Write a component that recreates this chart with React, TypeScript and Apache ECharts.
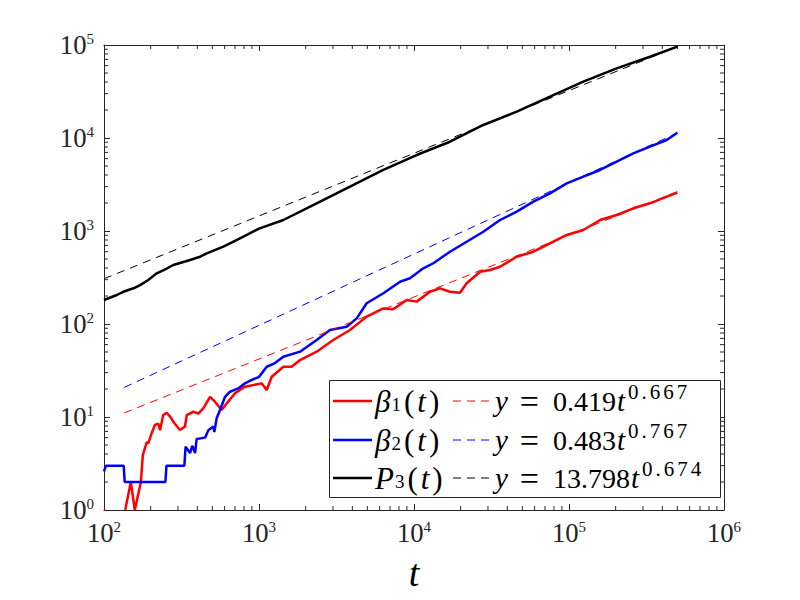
import React, { useEffect, useRef } from "react";
import * as echarts from "echarts";

// ---------- data ----------
const redT = [100, 102, 103, 136, 137, 149, 158, 173, 178, 189, 193, 203, 213, 224, 230, 241, 254, 267, 280, 309, 333, 342, 377, 406, 437, 483, 520, 574, 619, 700, 812, 1040, 1122, 1208, 1436, 1625, 1840, 2355, 3013, 3864, 4950, 6339, 7345, 8970, 10400, 12680, 14720, 17060, 19800, 21860, 26700, 30900, 35900, 46000, 58900, 75400, 96600, 123700, 158500, 203000, 260000, 333000, 427000, 500000];
const redV: (number | null)[] = [1, 1, null, null, 1, 2, 1, 2, 3.9, 5.4, 5.2, 6.7, 8.2, 8.5, 7.2, 10.5, 11.1, 10.1, 8.9, 7.25, 7.9, 10.5, 11.4, 10.9, 12.4, 16.5, 14.6, 11.9, 14, 18, 21.2, 23, 19.5, 27.1, 34.7, 34.7, 41, 50.4, 67.3, 86.2, 120, 147, 144, 181, 174, 222, 242, 222, 217, 274, 365, 381, 413, 529, 599, 738, 906, 1025, 1313, 1486, 1754, 1986, 2339, 2582];

const blueT = [100, 103, 134, 136, 249, 253, 330, 336, 359, 371, 387, 396, 449, 471, 507, 515, 533, 560, 604, 650, 735, 812, 897, 1000, 1122, 1268, 1436, 1840, 2355, 2870, 3680, 4270, 4950, 6340, 8130, 9420, 11480, 13330, 17060, 21860, 28000, 35900, 46000, 58900, 75400, 96600, 123700, 158500, 203000, 260000, 333000, 427000, 500000];
const blueV = [2.6, 3, 3, 2, 2, 3, 3, 4.8, 4.1, 4.9, 4.1, 5.8, 6, 7.2, 7.9, 6.9, 9.7, 11.9, 16.5, 18.7, 20.3, 23, 25, 27, 34.7, 38, 44.5, 50.4, 67.3, 86, 93.5, 115, 167, 214, 285, 310, 397, 450, 599, 767, 982, 1313, 1614, 2066, 2542, 3257, 3837, 4530, 5560, 6840, 8060, 9510, 11400];

const blackT = [100, 121, 133, 155, 171, 193, 219, 254, 280, 359, 417, 460, 589, 754, 1000, 1436, 2355, 3864, 6339, 10400, 17060, 28000, 46000, 75400, 123700, 203000, 333000, 500000];
const blackV = [181, 205, 222, 242, 262, 297, 351, 395, 431, 488, 529, 575, 678, 835, 1060, 1313, 1986, 2993, 4530, 6560, 9120, 13800, 19200, 27800, 40300, 56100, 74800, 95900];

// fitted power-law lines (end points)
const fit1T = [135, 500000];
const fit1V = [11.05, 2652];
const fit2T = [135, 500000];
const fit2V = [20.8, 11360];
const fit3T = [100, 500000];
const fit3V = [306.8, 95770];

const legendNames = ["\u03b2", "\u03b2", "P"];
const legendSubs = ["1", "2", "3"];
const fitCoefs = ["0.419", "0.483", "13.798"];
const fitExps = ["0.667", "0.767", "0.674"];
const colors = ["#ff0000", "#0000ff", "#000000"];

const xDecades = [2, 3, 4, 5];
const yDecades = [0, 1, 2, 3, 4];
const minorMults = [2, 3, 4, 5, 6, 7, 8, 9];

const FONT = "'Liberation Serif', 'Times New Roman', serif";
const AXC = "#262626";

const pairs = (t: number[], v: (number | null)[]) =>
  t.map((x, i) => [x, v[i] === null ? "-" : v[i]]);

export default function App() {
  const ref = useRef<HTMLDivElement>(null);
  useEffect(() => {
    if (!ref.current) return;
    const chart = echarts.init(ref.current, undefined, { renderer: "svg" });

    const xMinor: number[][] = [];
    xDecades.forEach((d) => minorMults.forEach((m) => xMinor.push([m * Math.pow(10, d), 1])));
    const yMinor: number[][] = [];
    yDecades.forEach((d) => minorMults.forEach((m) => yMinor.push([100, m * Math.pow(10, d)])));

    const tickFmt = (val: number) => {
      const e = Math.round(Math.log10(val));
      return `{b|10}{s|${e}}`;
    };
    const tickRich = {
      b: { fontFamily: FONT, fontSize: 26.7, color: AXC },
      s: { fontFamily: FONT, fontSize: 15, color: AXC, padding: [0, 0, 12, 0] },
    };

    const logAxisCommon = {
      type: "log" as const,
      logBase: 10,
      axisLine: { show: true, lineStyle: { color: AXC, width: 1 } },
      axisTick: { show: true, inside: true, length: 6, lineStyle: { color: AXC, width: 1 } },
      splitLine: { show: false },
      minorTick: { show: false },
    };

    const mkLine = (name: string, data: any[], color: string, dashed: boolean) => ({
      name,
      type: "line",
      data,
      showSymbol: false,
      symbol: "none",
      connectNulls: false,
      clip: true,
      lineStyle: dashed
        ? { color, width: 1, type: [8, 6] }
        : { color, width: 2.5 },
      z: dashed ? 3 : 2,
      silent: true,
    });

    const minorSeries = (data: number[][], horiz: boolean) => ({
      type: "custom",
      silent: true,
      clip: false,
      z: 1,
      data,
      renderItem: (params: any, api: any) => {
        const p = api.coord([api.value(0), api.value(1)]);
        const cs = params.coordSys;
        const st = { stroke: AXC, lineWidth: 1 };
        const L = 4;
        if (!horiz) {
          const yb = cs.y + cs.height;
          return {
            type: "group",
            children: [
              { type: "line", shape: { x1: p[0], y1: yb, x2: p[0], y2: yb - L }, style: st },
              { type: "line", shape: { x1: p[0], y1: cs.y, x2: p[0], y2: cs.y + L }, style: st },
            ],
          };
        }
        const xr = cs.x + cs.width;
        return {
          type: "group",
          children: [
            { type: "line", shape: { x1: cs.x, y1: p[1], x2: cs.x + L, y2: p[1] }, style: st },
            { type: "line", shape: { x1: xr, y1: p[1], x2: xr - L, y2: p[1] }, style: st },
          ],
        };
      },
    });

    // legend drawn with graphic elements
    const rowY = [401, 440, 478];
    const legendEls: any[] = [
      {
        type: "rect",
        shape: { x: 329.5, y: 380.5, width: 391, height: 117 },
        style: { fill: "#ffffff", stroke: AXC, lineWidth: 1 },
        z: 100,
      },
    ];
    const base = (size: number) => ({ fontFamily: FONT, fontSize: size, fill: "#000" });
    const supTokens = (s: string) =>
      s.split("").map((c) => `{s|${c}}`).join("");
    rowY.forEach((y, i) => {
      legendEls.push({
        type: "line",
        shape: { x1: 333, y1: y, x2: 372, y2: y },
        style: { stroke: colors[i], lineWidth: 2.5 },
        z: 101,
      });
      legendEls.push({
        type: "text",
        x: 375,
        y,
        z: 101,
        style: {
          text: `{g|${legendNames[i]}}{sub|${legendSubs[i]}}{lp|(}{t|t}{rp|)}`,
          align: "left",
          verticalAlign: "middle",
          rich: {
            g: { ...base(31), fontStyle: "italic" },
            t: { ...base(31), fontStyle: "italic", padding: [0, 3, 0, 3] },
            lp: { ...base(31), padding: [0, 0, 0, 2] },
            rp: { ...base(31) },
            sub: { ...base(19), padding: [7, 1, 0, 1] },
          },
        },
      });
      legendEls.push({
        type: "line",
        shape: { x1: 453, y1: y, x2: 494, y2: y },
        style: { stroke: colors[i], lineWidth: 1.2, lineDash: [8, 6] },
        z: 101,
      });
      legendEls.push({
        type: "text",
        x: 495,
        y,
        z: 101,
        style: {
          text: `{y|y}{eq|=}{n|${fitCoefs[i]}}{t|t}${supTokens(fitExps[i])}`,
          align: "left",
          verticalAlign: "middle",
          rich: {
            y: { ...base(29), fontStyle: "italic" },
            t: { ...base(29), fontStyle: "italic", padding: [0, 3, 0, 1] },
            n: { ...base(28) },
            eq: { ...base(34), padding: [0, 14, 0, 12] },
            s: { ...base(21), padding: [0, 3, 18, 0] },
          },
        },
      });
    });
    legendEls.push({
      type: "text",
      x: 414,
      y: 573,
      z: 101,
      style: {
        text: "t",
        align: "center",
        verticalAlign: "middle",
        fontFamily: FONT,
        fontSize: 38,
        fontStyle: "italic",
        fill: "#000",
      },
    });

    chart.setOption({
      animation: false,
      backgroundColor: "#ffffff",
      grid: { left: 104, right: 76, top: 45, bottom: 90, containLabel: false },
      xAxis: [
        {
          ...logAxisCommon,
          position: "bottom",
          min: 100,
          max: 1000000,
          axisLabel: { show: true, margin: 9, formatter: tickFmt, rich: tickRich },
        },
        {
          ...logAxisCommon,
          position: "top",
          min: 100,
          max: 1000000,
          axisLabel: { show: false },
        },
      ],
      yAxis: [
        {
          ...logAxisCommon,
          position: "left",
          min: 1,
          max: 100000,
          axisLabel: { show: true, margin: 10, formatter: tickFmt, rich: tickRich },
        },
        {
          ...logAxisCommon,
          position: "right",
          min: 1,
          max: 100000,
          axisLabel: { show: false },
        },
      ],
      series: [
        mkLine("beta1", pairs(redT, redV), colors[0], false),
        mkLine("fit1", pairs(fit1T, fit1V), colors[0], true),
        mkLine("beta2", pairs(blueT, blueV), colors[1], false),
        mkLine("fit2", pairs(fit2T, fit2V), colors[1], true),
        mkLine("P3", pairs(blackT, blackV), colors[2], false),
        mkLine("fit3", pairs(fit3T, fit3V), colors[2], true),
        minorSeries(xMinor, false),
        minorSeries(yMinor, true),
      ],
      graphic: legendEls,
    });

    return () => chart.dispose();
  }, []);

  return (
    <div
      ref={ref}
      style={{ position: "fixed", left: 0, top: 0, width: 800, height: 600, background: "#fff" }}
    />
  );
}
